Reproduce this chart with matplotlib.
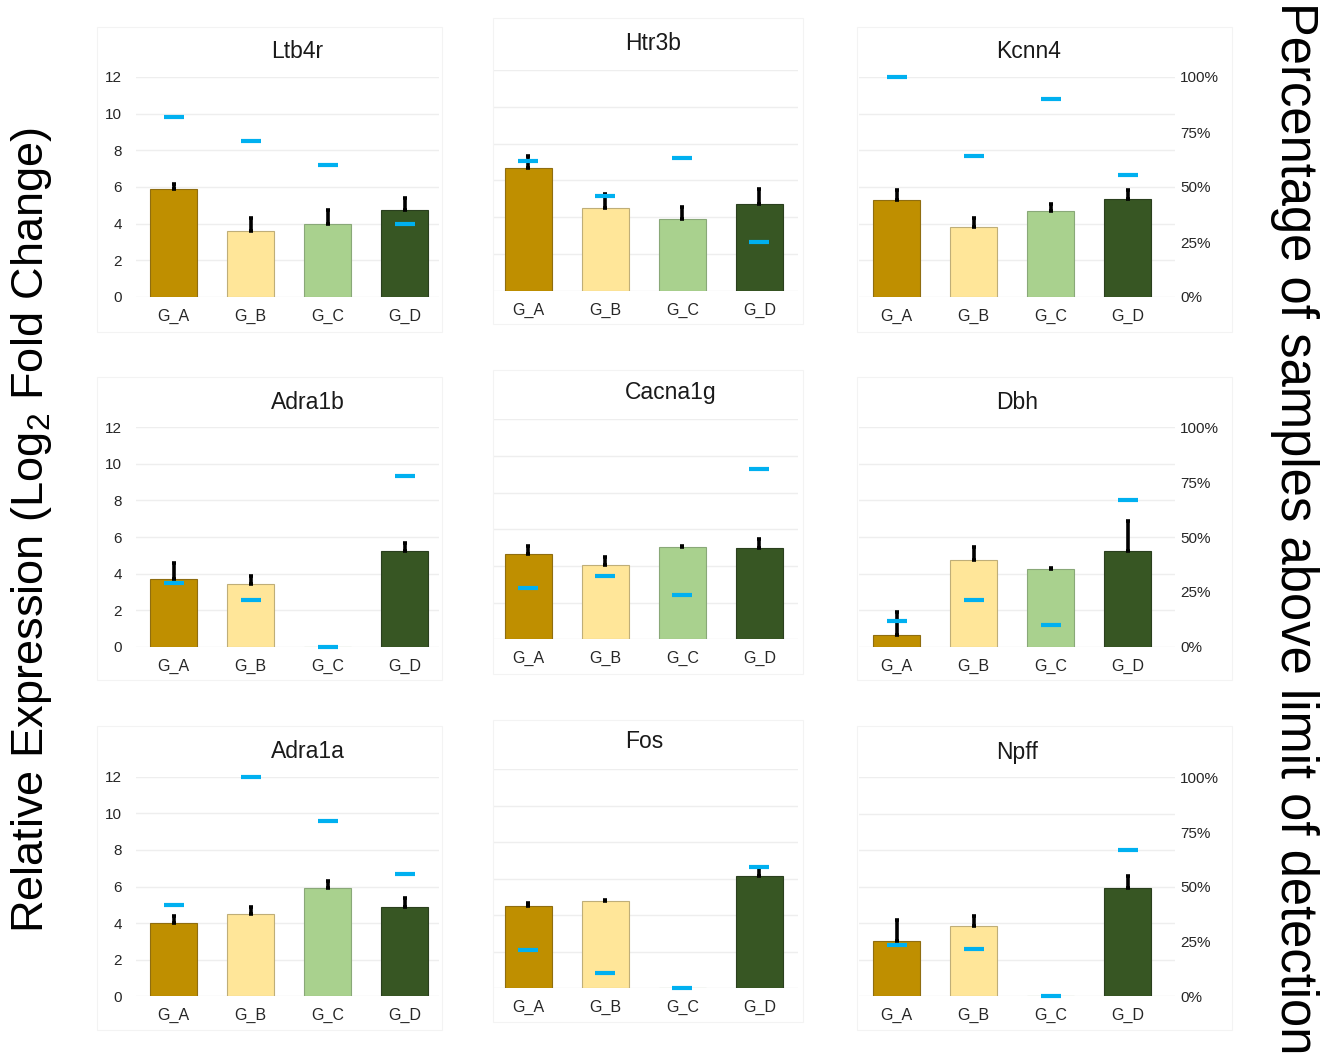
#! /usr/bin/env python

# import modules
# --------------
import numpy
import matplotlib
matplotlib.use('Agg')
import matplotlib.pyplot as plt
from matplotlib.patches import Rectangle

plt.rcParams['font.family'] = ['Liberation Sans', 'DejaVu Sans']
plt.rcParams['mathtext.fontset'] = 'custom'
plt.rcParams['mathtext.rm'] = 'Liberation Sans'
plt.rcParams['mathtext.default'] = 'regular'

# data --
groups = ['G_A', 'G_B', 'G_C', 'G_D']
genes = ['Ltb4r', 'Htr3b', 'Kcnn4',
         'Adra1b', 'Cacna1g', 'Dbh',
         'Adra1a', 'Fos', 'Npff']

# mean relative expression (log2 fold change)
ltb4r_mean = [5.87, 3.58, 3.96, 4.74]
htr3b_mean = [6.68, 4.49, 3.93, 4.75]
kcnn4_mean = [5.27, 3.80, 4.67, 5.33]
adra1b_mean = [3.70, 3.43, 0.0, 5.22]
cacna1g_mean = [4.67, 4.07, 5.04, 4.96]
dbh_mean = [0.62, 4.76, 4.25, 5.22]
adra1a_mean = [3.99, 4.50, 5.90, 4.90]
fos_mean = [4.51, 4.80, 0.0, 6.13]
npff_mean = [3.01, 3.85, 0.0, 5.92]

# upper error
ltb4r_err = [0.28, 0.71, 0.78, 0.68]
htr3b_err = [0.67, 0.78, 0.62, 0.80]
kcnn4_err = [0.57, 0.52, 0.38, 0.53]
adra1b_err = [0.86, 0.44, 0.0, 0.47]
cacna1g_err = [0.42, 0.40, 0.07, 0.49]
dbh_err = [1.26, 0.68, 0.05, 1.68]
adra1a_err = [0.40, 0.40, 0.38, 0.46]
fos_err = [0.14, 0.04, 0.0, 0.53]
npff_err = [1.15, 0.53, 0.0, 0.65]

# percentage of samples above limit of detection
ltb4r_pct = [82, 71, 60, 33]
htr3b_pct = [59, 43, 60, 22]
kcnn4_pct = [100, 64, 90, 55.5]
adra1b_pct = [29, 21.5, 0, 78]
cacna1g_pct = [23.5, 28.6, 20, 77.6]
dbh_pct = [11.7, 21.4, 9.9, 67]
adra1a_pct = [41.4, 100, 80, 55.7]
fos_pct = [17.5, 7, 0, 55.5]
npff_pct = [23.6, 21.5, 0, 67]

means = [ltb4r_mean, htr3b_mean, kcnn4_mean, adra1b_mean, cacna1g_mean,
         dbh_mean, adra1a_mean, fos_mean, npff_mean]
errs = [ltb4r_err, htr3b_err, kcnn4_err, adra1b_err, cacna1g_err,
        dbh_err, adra1a_err, fos_err, npff_err]
pcts = [ltb4r_pct, htr3b_pct, kcnn4_pct, adra1b_pct, cacna1g_pct,
        dbh_pct, adra1a_pct, fos_pct, npff_pct]

yticks = [0, 2, 4, 6, 8, 10, 12]
pct_ticks = [0, 25, 50, 75, 100]
pct_labels = ['0%', '25%', '50%', '75%', '100%']

# styles --
bar_colors = ['#BF8F00', '#FFE699', '#A9D18E', '#375623']
edge_colors = ['#8F6D10', '#BFAE78', '#89A878', '#2A3F1E']
blue = '#00B0F0'

# layout (pixels) --
W, H = 1321, 1057
col_left = [136, 493, 859]
col_xlim = [(-0.49, 3.45), (-0.46, 3.5), (-0.49, 3.61)]
unit = 77.0
# (baseline, top) per row, per column
row_y = [[(297, 77), (291, 70), (297, 77)],
         [(646.7, 427.3), (639.3, 419.3), (646.7, 427.3)],
         [(996.3, 776.7), (988.3, 769), (996.3, 777.3)]]
frames = [[(97, 27, 442, 332), (493, 18, 803, 324), (857, 27, 1232, 332)],
          [(97, 377, 442, 680), (493, 370, 803, 674), (857, 377, 1232, 680)],
          [(97, 726, 442, 1030), (493, 720, 803, 1022), (857, 726, 1232, 1030)]]
title_x = [271, 625, 996]
title_y = [[52, 43, 52], [402, 393, 402], [752, 742, 752]]

fig = plt.figure(figsize=(W / 100, H / 100), dpi=100)
fig.patch.set_facecolor('white')

x = numpy.arange(len(groups))

for i, gene in enumerate(genes):
    r, c = divmod(i, 3)
    base, top = row_y[r][c]
    xmin, xmax = col_xlim[c]
    left = col_left[c]
    width = (xmax - xmin) * unit

    # panel frame --
    fx0, fy0, fx1, fy1 = frames[r][c]
    fig.add_artist(Rectangle((fx0 / W, 1 - fy1 / H), (fx1 - fx0) / W, (fy1 - fy0) / H,
                             transform=fig.transFigure, fill=False,
                             ec='#F3F3F3', lw=0.8))

    # define axes --
    ax = fig.add_axes([left / W, 1 - base / H, width / W, (base - top) / H])
    ax.set_xlim(xmin, xmax)
    ax.set_ylim(0, 12)
    for s in ax.spines.values():
        s.set_visible(False)
    ax.set_yticks(yticks)
    ax.grid(axis='y', color='#EEEEEE', lw=1.0)
    ax.set_axisbelow(True)
    ax.set_xticks(x)
    ax.set_xticklabels(groups, fontsize=11.5, color='#262626')
    ax.tick_params(axis='x', length=0, pad=8.5)
    ax.tick_params(axis='y', length=0, pad=10, labelsize=11, labelcolor='#262626')
    if c != 0:
        ax.set_yticklabels([])

    # bars and error bars --
    m = numpy.array(means[i])
    e = numpy.array(errs[i])
    ax.bar(x, m, width=0.61, color=bar_colors, edgecolor=edge_colors, lw=0.8, zorder=2)
    ok = m > 0
    ax.errorbar(x[ok], m[ok], yerr=[numpy.zeros(ok.sum()), e[ok]], fmt='none',
                ecolor='black', elinewidth=2.6, capsize=1.2, capthick=2.6, zorder=3)

    # percentage markers --
    pax = ax.twinx()
    pax.set_ylim(0, 100)
    for s in pax.spines.values():
        s.set_visible(False)
    pax.plot(x, pcts[i], ls='none', marker='_', ms=14.5, mew=3.0,
             color=blue, clip_on=False, zorder=4)
    if c == 2:
        pax.set_yticks(pct_ticks)
        pax.set_yticklabels(pct_labels)
        pax.tick_params(axis='y', length=0, pad=4, labelsize=11, labelcolor='#262626')
    else:
        pax.set_yticks([])

    # title --
    fig.text(title_x[c] / W, 1 - title_y[r][c] / H, gene, ha='left', va='center',
             fontsize=16.5, color='#1a1a1a')

# outer labels --
fig.text(32 / W, 1 - 530 / H, r'Relative Expression (Log$_2$ Fold Change)',
         rotation=90, ha='center', va='center', fontsize=32.5, color='black')
fig.text(1294 / W, 1 - 528 / H, 'Percentage of samples above limit of detection',
         rotation=-90, ha='center', va='center', fontsize=36.5, color='black')

fig.savefig('out.png', dpi=100)
